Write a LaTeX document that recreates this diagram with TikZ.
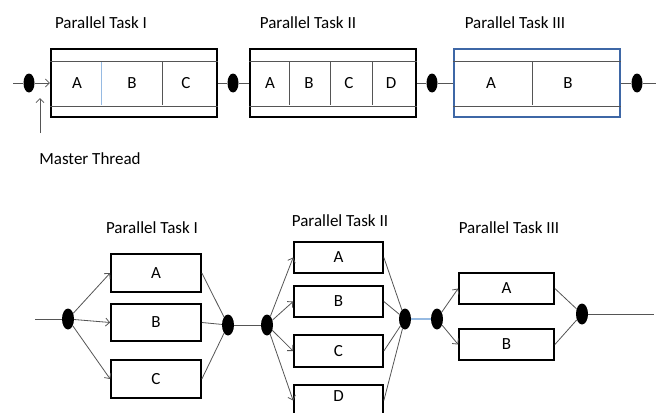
\documentclass[tikz,border=0pt]{standalone}
\usepackage{fontspec}
\setmainfont{Carlito}
\usetikzlibrary{shapes.geometric,arrows.meta}

\definecolor{taskblue}{RGB}{62,103,166}
\definecolor{paleblue}{RGB}{150,186,226}
\definecolor{wire}{RGB}{85,85,85}

\tikzset{
	lbl/.style={font=\fontsize{17}{20}\selectfont, inner sep=0pt},
	fork/.style={ellipse, fill=black, inner sep=0pt, minimum width=11pt, minimum height=19pt},
	bigfork/.style={fork, minimum width=12pt, minimum height=21pt},
	taskbox/.style={draw, line width=2.2pt, inner sep=0pt, minimum width=166pt, minimum height=68pt},
	jobbox/.style={draw, line width=1.7pt, inner sep=0pt, minimum width=#1, minimum height=31.5pt},
	cell/.style={draw=wire, line width=0.8pt},
	flow/.style={draw=wire, line width=0.8pt},
	>={Straight Barb[length=4pt,width=8pt]}
}

\begin{document}
\begin{tikzpicture}[x=1pt, y=-1pt]
	\useasboundingbox (0,0) rectangle (660,412);
	\clip (0,0) rectangle (660,412);

	%% sequence of tasks, one thread after the other
	\node[lbl] (ttl1) at (101,23) {Parallel Task I};
	\node[lbl] (ttl2) at (308,23) {Parallel Task II};
	\node[lbl] (ttl3) at (515,23) {Parallel Task III};

	\node[taskbox] (t1) at (134,83) {};
	\node[taskbox] (t2) at (333,83) {};
	\node[taskbox, draw=taskblue] (t3) at (537,83) {};

	% inner rows
	\foreach \b in {t1,t2,t3}{
		\draw[cell] ([yshift=-13pt]\b.north west) -- ([yshift=-13pt]\b.north east);
		\draw[cell] ([yshift=12pt]\b.south west) -- ([yshift=12pt]\b.south east);
	}
	% cell walls
	\draw[paleblue, line width=0.8pt] (101,62) -- (101,105);
	\foreach \x in {162, 289, 330, 372, 532}
		\draw[cell] (\x,62) -- (\x,105);

	\foreach \x/\t in {77/A, 132/B, 186/C, 270/A, 309/B, 349/C, 391/D, 491/A, 568/B}
		\node[lbl] (c\x) at (\x,83) {\t};

	\coordinate (in0) at (13,83);
	\coordinate (out0) at (656,83);
	\node[fork] (d1) at (29,83) {};
	\node[fork] (d2) at (233,83) {};
	\node[fork] (d3) at (432,83) {};
	\node[fork] (d4) at (637,83) {};

	\draw[flow] (in0) -- (d1);
	\draw[flow,->] (d1) -- (t1.west);
	\draw[flow] (t1) -- (d2) -- (t2);
	\draw[flow] (t2) -- (d3) -- (t3);
	\draw[flow] (t3) -- (d4) -- (out0);

	% master thread pointer
	\node[lbl] (mt) at (90,159) {Master Thread};
	\coordinate (mtfoot) at (40,133);
	\coordinate (mttip) at (40,98);
	\draw[flow,->] (mtfoot) -- (mttip);

	%% fork / join version
	\node[lbl] (bt1) at (152,228) {Parallel Task I};
	\node[lbl] (bt2) at (340,221) {Parallel Task II};
	\node[lbl] (bt3) at (509,228) {Parallel Task III};

	% first task
	\node[jobbox=90pt, minimum height=37.5pt] (a1) at (156,273) {};
	\node[jobbox=90pt, minimum height=37.5pt] (b1) at (156,322.5) {};
	\node[jobbox=90pt, minimum height=37.5pt] (c1) at (156,379) {};
	% second task
	\node[jobbox=89pt] (a2) at (338.5,257.5) {};
	\node[jobbox=89pt] (b2) at (338.5,301.5) {};
	\node[jobbox=89pt] (c2) at (338.5,351) {};
	\node[jobbox=89pt] (d2) at (338.5,400.5) {};
	% third task
	\node[jobbox=95pt] (a3) at (506.5,288.5) {};
	\node[jobbox=95pt] (b3) at (506.5,344.5) {};

	\foreach \b/\t in {a1/A, b1/B, c1/C, a2/A, b2/B, c2/C, a3/A, b3/B}
		\node[lbl] at (\b) {\t};
	\node[lbl] at (338.5,396) {D};

	\coordinate (in1) at (35,319);
	\coordinate (out1) at (654,314);
	\node[bigfork] (f1) at (68,319) {};
	\node[bigfork] (j1) at (228,325) {};
	\node[bigfork] (f2) at (267,325) {};
	\node[bigfork] (j2) at (405,319) {};
	\node[bigfork] (f3) at (437,319) {};
	\node[bigfork] (j3) at (582,314) {};

	\draw[flow] (in1) -- (f1);
	\foreach \b in {a1,b1,c1}{
		\draw[flow,->] (f1) -- (\b.west);
		\draw[flow] (\b.east) -- (j1);
	}
	\draw[flow] (j1) -- (f2);
	\foreach \b in {a2,b2,c2,d2}{
		\draw[flow,->] (f2) -- (\b.west);
		\draw[flow] (\b.east) -- (j2);
	}
	\draw[paleblue, line width=1.2pt] (j2) -- (f3);
	\foreach \b in {a3,b3}{
		\draw[flow,->] (f3) -- (\b.west);
		\draw[flow] (\b.east) -- (j3);
	}
	\draw[flow] (j3) -- (out1);
\end{tikzpicture}
\end{document}
